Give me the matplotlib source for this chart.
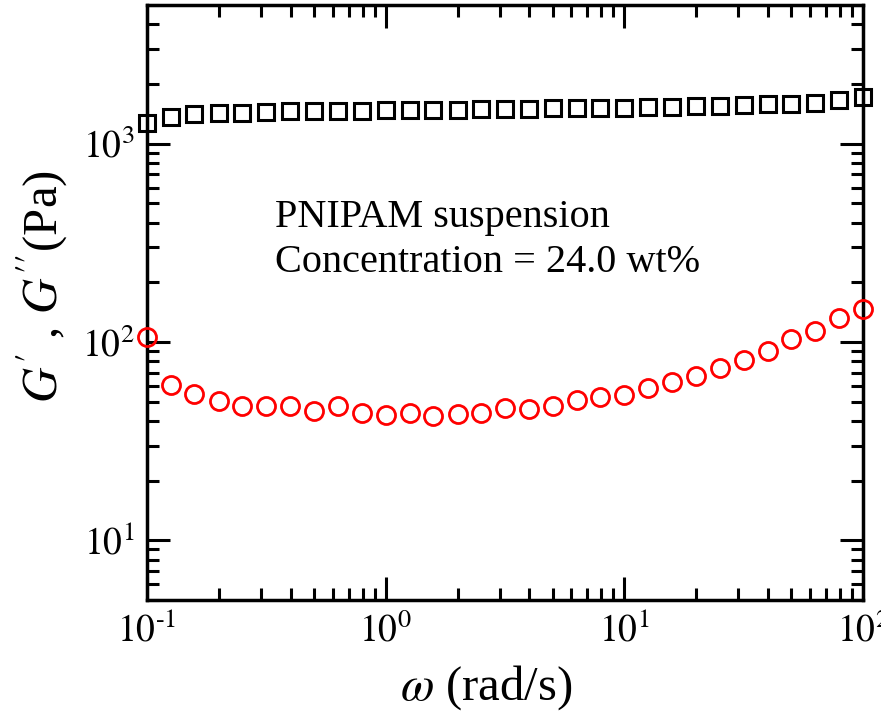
import matplotlib
matplotlib.use("Agg")
import matplotlib.pyplot as plt
from matplotlib.ticker import LogLocator, FuncFormatter, NullFormatter
import math

plt.rcParams['font.family'] = ['Liberation Serif', 'DejaVu Serif']
plt.rcParams['mathtext.fontset'] = 'stix'

omega = [0.1, 0.126, 0.158, 0.2, 0.251, 0.316, 0.398, 0.501, 0.631, 0.794,
         1.0, 1.26, 1.58, 2.0, 2.51, 3.16, 3.98, 5.01, 6.31, 7.94,
         10.0, 12.6, 15.8, 20.0, 25.1, 31.6, 39.8, 50.1, 63.1, 79.4, 100.0]

G_storage = [1277, 1365, 1403, 1419, 1432, 1445, 1452, 1458, 1463, 1468,
             1472, 1476, 1480, 1485, 1490, 1495, 1500, 1505, 1510, 1515,
             1520, 1527, 1535, 1545, 1555, 1565, 1575, 1590, 1610, 1650, 1720]

G_loss = [106, 61, 54.8, 50.1, 47.7, 47.3, 47.3, 45.0, 47.3, 43.8,
          42.9, 43.8, 42.1, 43.3, 43.8, 46.4, 45.9, 47.7, 51.2, 52.5,
          54.2, 58.6, 62.5, 67.6, 74.0, 81.5, 89.8, 103, 113.5, 131.5, 147]

annotation_lines = ['PNIPAM suspension', 'Concentration = 24.0 wt%']

fig = plt.figure(figsize=(8.81, 7.12), dpi=100)
ax = fig.add_axes([0.1669, 0.1573, 0.8127, 0.8357])

ax.plot(omega, G_storage, linestyle='none', marker='s', markersize=12,
        markerfacecolor='none', markeredgecolor='black', markeredgewidth=2.2,
        clip_on=False, zorder=3)
ax.plot(omega, G_loss, linestyle='none', marker='o', markersize=13,
        markerfacecolor='none', markeredgecolor='red', markeredgewidth=2,
        clip_on=False, zorder=3)

ax.set_xscale('log')
ax.set_yscale('log')
ax.set_xlim(0.1, 100)
ax.set_ylim(5, 5000)


def pow_fmt(v, pos):
    e = int(round(math.log10(v)))
    if e < 0:
        return r'$10^{\text{-}%d}$' % (-e)
    return r'$10^{%d}$' % e


ax.xaxis.set_major_locator(LogLocator(base=10, numticks=10))
ax.yaxis.set_major_locator(LogLocator(base=10, numticks=10))
ax.xaxis.set_minor_locator(LogLocator(base=10, subs=range(2, 10), numticks=20))
ax.yaxis.set_minor_locator(LogLocator(base=10, subs=range(2, 10), numticks=20))
ax.xaxis.set_major_formatter(FuncFormatter(pow_fmt))
ax.yaxis.set_major_formatter(FuncFormatter(pow_fmt))
ax.xaxis.set_minor_formatter(NullFormatter())
ax.yaxis.set_minor_formatter(NullFormatter())

ax.tick_params(which='both', direction='in', top=True, right=True, width=2.2)
ax.tick_params(which='major', length=16.5, labelsize=27, pad=9)
ax.tick_params(which='minor', length=8.5)
for s in ax.spines.values():
    s.set_linewidth(2.5)

ax.set_xlabel(r'$\omega$ (rad/s)', fontsize=35)
ax.xaxis.set_label_coords(0.473, -0.106)
ax.set_ylabel(r"$G^{\prime}$ , $G^{\prime\prime}$(Pa)", fontsize=35)
ax.yaxis.set_label_coords(-0.107, 0.526)

ax.text(0.179, 0.627, annotation_lines[0], transform=ax.transAxes,
        fontsize=29, ha='left', va='baseline')
ax.text(0.179, 0.551, annotation_lines[1], transform=ax.transAxes,
        fontsize=29, ha='left', va='baseline')

fig.savefig('out.png', dpi=100)
